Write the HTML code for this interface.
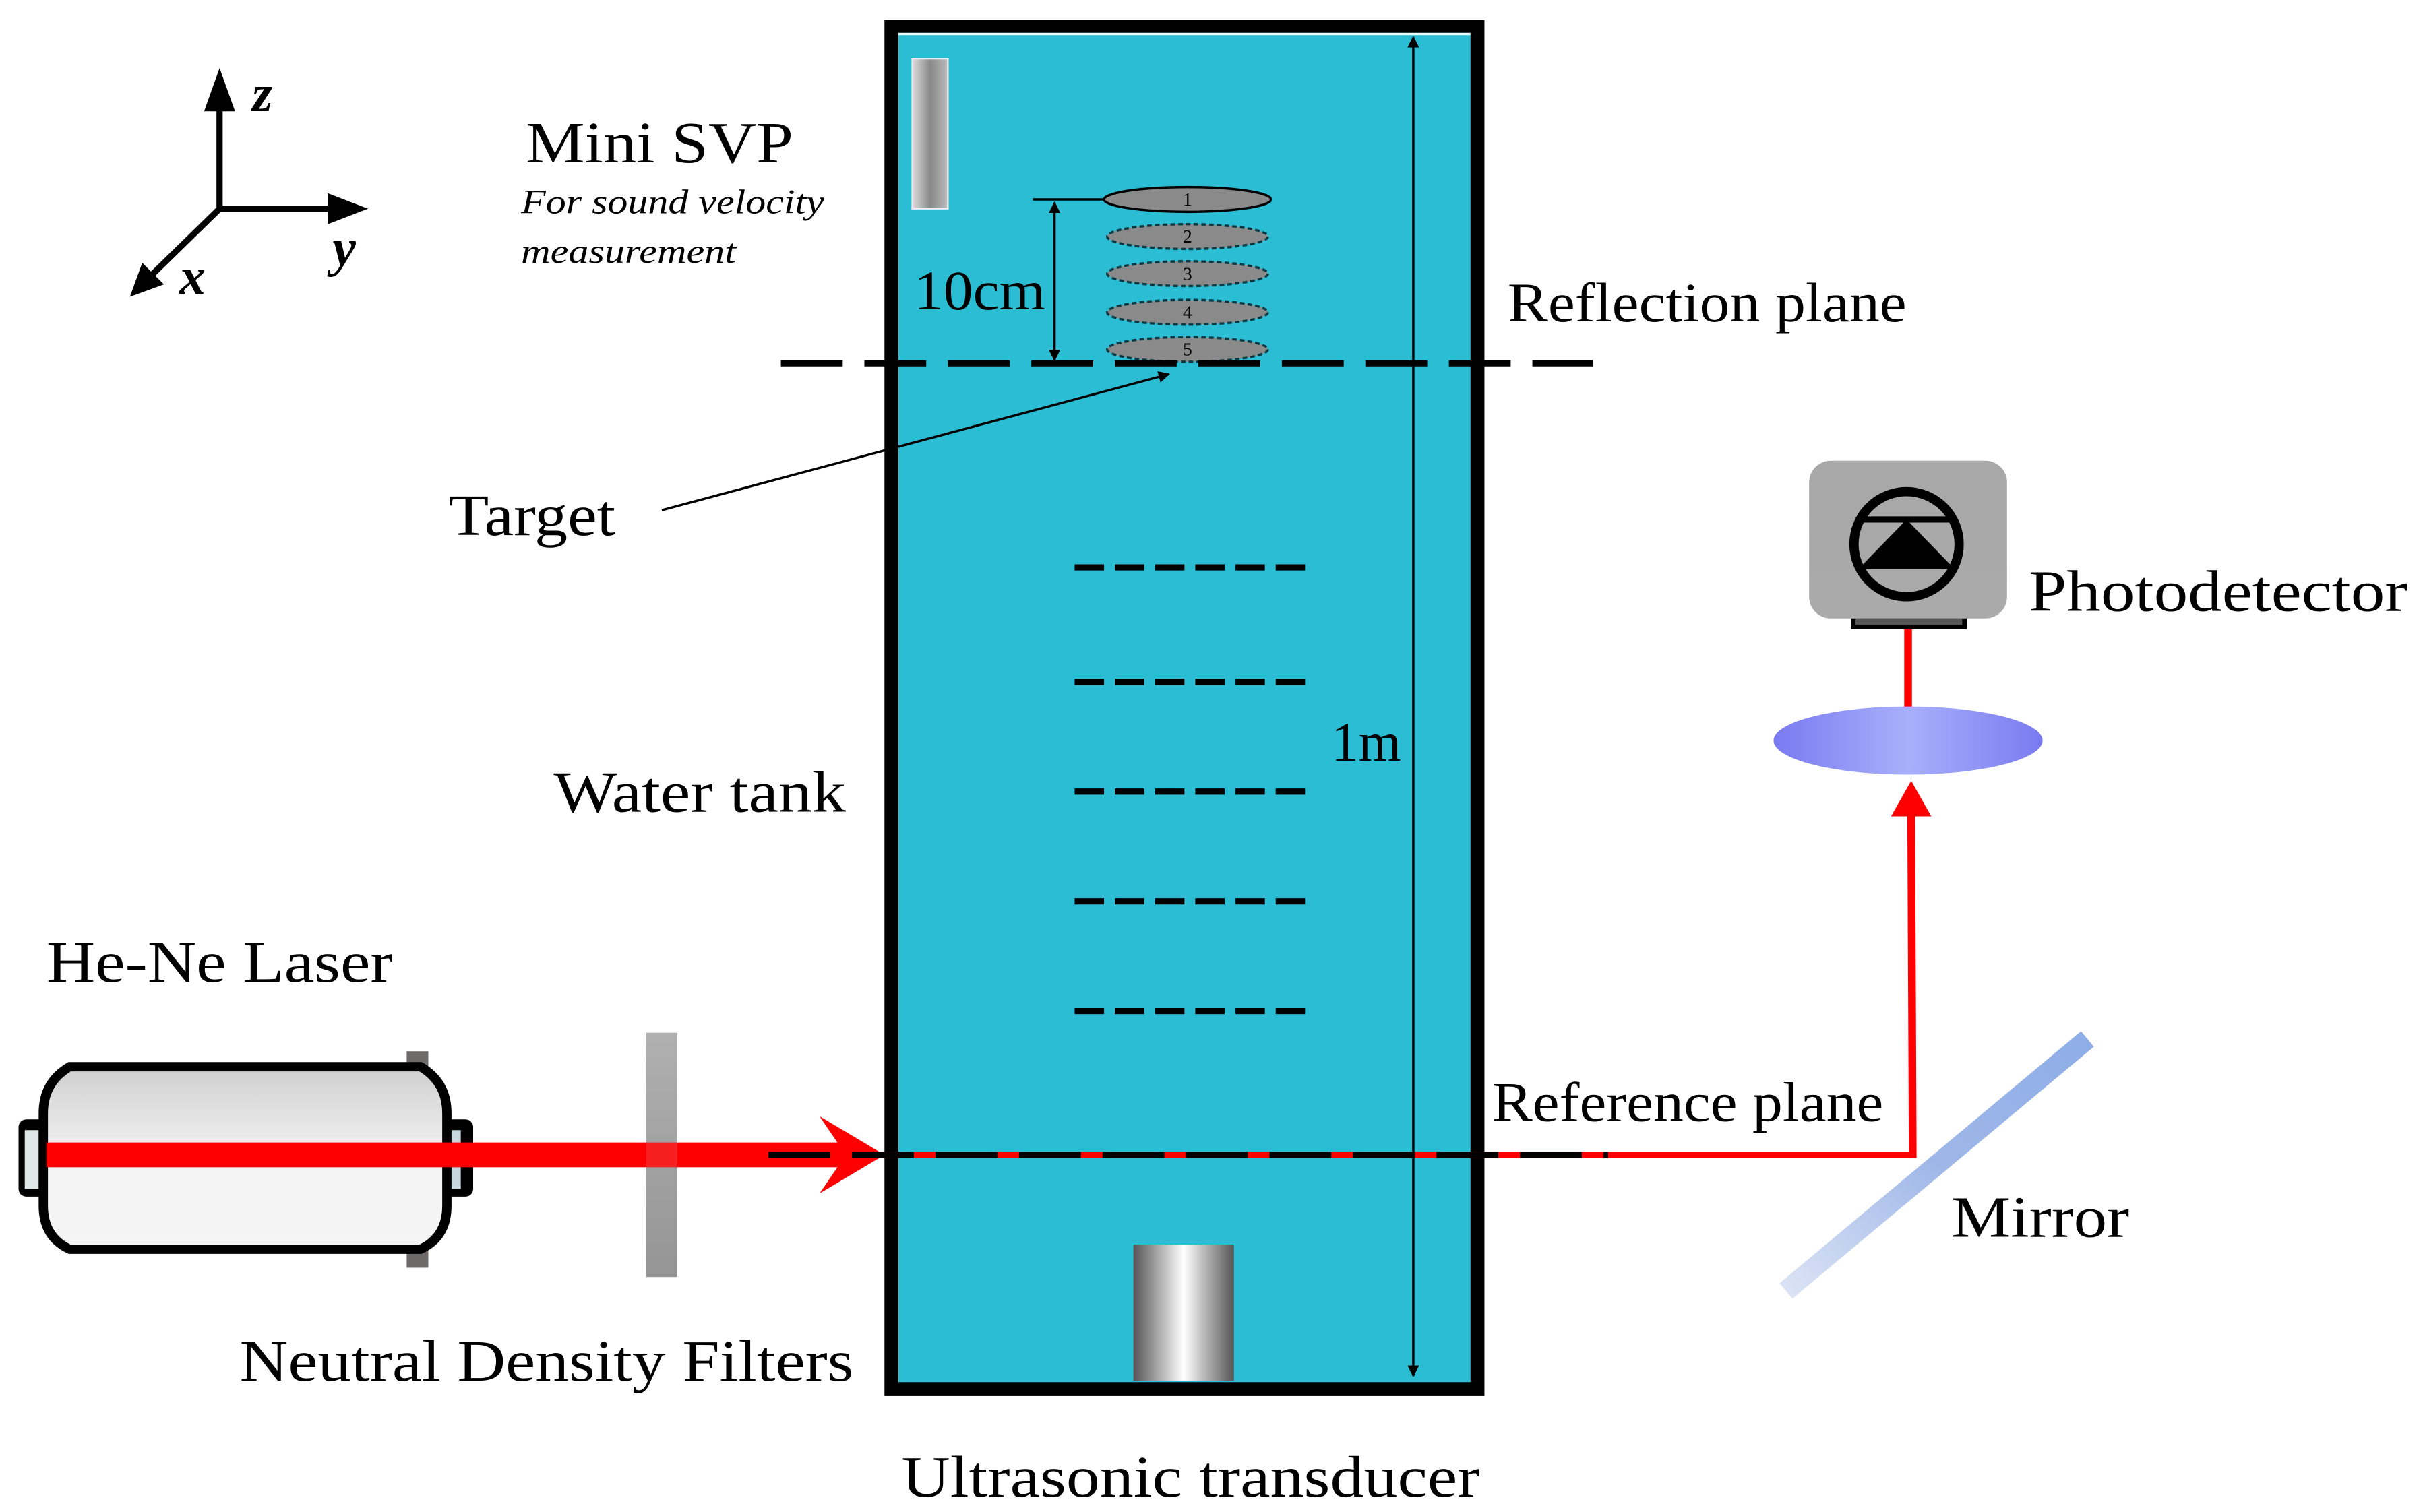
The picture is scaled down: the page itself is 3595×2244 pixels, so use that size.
<!DOCTYPE html>
<html><head><meta charset="utf-8"><style>
html,body{margin:0;padding:0;background:#fff;}
svg{display:block;}
text{font-family:"Liberation Serif",serif;fill:#000;}
</style></head><body>
<svg width="3595" height="2244" viewBox="0 0 1567 978" preserveAspectRatio="none" xmlns="http://www.w3.org/2000/svg">
<defs>
<linearGradient id="body" x1="0" y1="0" x2="0" y2="1"><stop offset="0" stop-color="#cfcfcf"/><stop offset="0.5" stop-color="#f3f3f3"/><stop offset="1" stop-color="#f5f5f5"/></linearGradient>
<linearGradient id="filt" x1="0" y1="0" x2="0" y2="1"><stop offset="0" stop-color="#b0b0b0"/><stop offset="1" stop-color="#959595"/></linearGradient>
<linearGradient id="trans" x1="0" y1="0" x2="1" y2="0"><stop offset="0" stop-color="#555"/><stop offset="0.5" stop-color="#fff"/><stop offset="1" stop-color="#555"/></linearGradient>
<linearGradient id="svp" x1="0" y1="0" x2="1" y2="0"><stop offset="0" stop-color="#ddd"/><stop offset="0.5" stop-color="#888"/><stop offset="1" stop-color="#bbb"/></linearGradient>
<linearGradient id="lens" x1="0" y1="0" x2="1" y2="0"><stop offset="0" stop-color="#7a7af0"/><stop offset="0.5" stop-color="#a8b0fa"/><stop offset="1" stop-color="#7a7af0"/></linearGradient>
<linearGradient id="mir" x1="0" y1="1" x2="1" y2="0"><stop offset="0" stop-color="#dbe3f5"/><stop offset="0.5" stop-color="#9fb7e8"/><stop offset="1" stop-color="#8eaee8"/></linearGradient>
<linearGradient id="pd" x1="0" y1="0" x2="0" y2="1"><stop offset="0" stop-color="#a8a8a8"/><stop offset="1" stop-color="#aaa"/></linearGradient>
<marker id="ah" viewBox="0 0 10 10" refX="9" refY="5" markerWidth="5" markerHeight="5" orient="auto-start-reverse"><path d="M0,0 L10,5 L0,10 z" fill="#000"/></marker>
</defs>

<!-- axes -->
<line x1="142" y1="135" x2="142" y2="60" stroke="#000" stroke-width="4"/>
<path d="M132,72 L142,44 L152,72 z" fill="#000"/>
<line x1="142" y1="135" x2="222" y2="135" stroke="#000" stroke-width="4"/>
<path d="M212,125 L238,135 L212,145 z" fill="#000"/>
<line x1="142" y1="135" x2="98" y2="178" stroke="#000" stroke-width="4"/>
<path d="M92,170 L84,192 L106,184 z" fill="#000"/>
<text x="163" y="72" font-size="34" font-style="italic" font-weight="bold">z</text>
<text x="215" y="172" font-size="34" font-style="italic" font-weight="bold">y</text>
<text x="116" y="190" font-size="34" font-style="italic" font-weight="bold">x</text>

<text x="340" y="105" font-size="38" textLength="173" lengthAdjust="spacingAndGlyphs">Mini SVP</text>
<text x="337" y="138" font-size="22" font-style="italic" textLength="196" lengthAdjust="spacingAndGlyphs">For sound velocity</text>
<text x="337" y="170" font-size="22" font-style="italic" textLength="139" lengthAdjust="spacingAndGlyphs">measurement</text>

<!-- tank -->
<rect x="576.5" y="17.5" width="379" height="881" fill="#2bbdd3" stroke="#000" stroke-width="9"/>
<line x1="581" y1="22" x2="951" y2="22" stroke="#e8fbff" stroke-width="1.5"/>
<rect x="590" y="38" width="23" height="97" fill="url(#svp)" stroke="#eee" stroke-width="1"/>

<!-- ellipses -->
<line x1="668" y1="129" x2="720" y2="129" stroke="#000" stroke-width="1.5"/>
<ellipse cx="768" cy="129" rx="54" ry="8" fill="#8a8a8a" stroke="#000" stroke-width="1.5"/>
<g fill="#8a8a8a" stroke="#0a3a44" stroke-width="1.5" stroke-dasharray="3,2">
<ellipse cx="768" cy="153" rx="52" ry="8"/>
<ellipse cx="768" cy="177" rx="52" ry="8"/>
<ellipse cx="768" cy="202" rx="52" ry="8"/>
<ellipse cx="768" cy="226" rx="52" ry="8"/>
</g>
<g font-size="12" text-anchor="middle"><text x="768" y="133">1</text><text x="768" y="157">2</text><text x="768" y="181">3</text><text x="768" y="206">4</text><text x="768" y="230">5</text></g>
<line x1="682" y1="131" x2="682" y2="233" stroke="#000" stroke-width="1.5" marker-start="url(#ah)" marker-end="url(#ah)"/>
<text x="591" y="200" font-size="36" textLength="85" lengthAdjust="spacingAndGlyphs">10cm</text>

<!-- reflection plane -->
<line x1="505" y1="235" x2="1030" y2="235" stroke="#000" stroke-width="4" stroke-dasharray="40,14"/>
<text x="975" y="208" font-size="36" textLength="258" lengthAdjust="spacingAndGlyphs">Reflection plane</text>

<!-- 1m -->
<line x1="914" y1="24" x2="914" y2="890" stroke="#000" stroke-width="1.5" marker-start="url(#ah)" marker-end="url(#ah)"/>
<text x="861" y="492" font-size="36" textLength="45" lengthAdjust="spacingAndGlyphs">1m</text>

<!-- target -->
<text x="290" y="346" font-size="38" textLength="108" lengthAdjust="spacingAndGlyphs">Target</text>
<line x1="428" y1="330" x2="756" y2="242" stroke="#000" stroke-width="1.5" marker-end="url(#ah)"/>

<!-- short dashed -->
<g stroke="#000" stroke-width="4" stroke-dasharray="19,7">
<line x1="695" y1="367" x2="845" y2="367"/>
<line x1="695" y1="441" x2="845" y2="441"/>
<line x1="695" y1="512" x2="845" y2="512"/>
<line x1="695" y1="583" x2="845" y2="583"/>
<line x1="695" y1="654" x2="845" y2="654"/>
</g>

<text x="358" y="525" font-size="38" textLength="189" lengthAdjust="spacingAndGlyphs">Water tank</text>
<text x="30" y="635" font-size="38" textLength="224" lengthAdjust="spacingAndGlyphs">He-Ne Laser</text>

<!-- laser -->
<rect x="263" y="680" width="14" height="140" fill="#6e6a6a"/>
<rect x="12" y="724" width="24" height="50" rx="5" fill="#000"/>
<rect x="16" y="731" width="9" height="38" fill="#dfe8e6"/>
<rect x="280" y="724" width="26" height="50" rx="5" fill="#000"/>
<rect x="289" y="731" width="9" height="38" fill="#c8d6dd"/>
<path d="M45,690 L272,690 Q289,700 289,720 L289,780 Q289,800 272,808 L45,808 Q28,800 28,780 L28,720 Q28,700 45,690 z" fill="url(#body)" stroke="#000" stroke-width="6"/>
<!-- beam -->
<rect x="30" y="739" width="520" height="16" fill="#ff0000"/>
<rect x="418" y="668" width="20" height="158" fill="url(#filt)"/>
<rect x="418" y="739" width="20" height="16" fill="#ff1010" opacity="0.9"/>
<path d="M530,722 L572,747 L530,772 L547,747 z" fill="#ff0000"/>

<!-- reference plane -->
<line x1="570" y1="747" x2="1236" y2="747" stroke="#ff0000" stroke-width="4"/>
<line x1="497" y1="747" x2="1040" y2="747" stroke="#000" stroke-width="4" stroke-dasharray="40,14"/>
<text x="965" y="725" font-size="36" textLength="253" lengthAdjust="spacingAndGlyphs">Reference plane</text>
<line x1="1237" y1="749" x2="1236" y2="525" stroke="#ff0000" stroke-width="5"/>
<path d="M1223,528 L1236,505 L1249,528 z" fill="#ff0000"/>
<line x1="1234" y1="462" x2="1234" y2="400" stroke="#ff0000" stroke-width="5"/>
<ellipse cx="1234" cy="479" rx="87" ry="22" fill="url(#lens)"/>

<!-- mirror -->
<line x1="1155" y1="835" x2="1350" y2="672" stroke="url(#mir)" stroke-width="13"/>
<text x="1262" y="800" font-size="38" textLength="115" lengthAdjust="spacingAndGlyphs">Mirror</text>

<!-- photodetector -->
<rect x="1197" y="398" width="75" height="9" fill="#000"/>
<rect x="1200" y="400" width="69" height="4" fill="#555"/>
<rect x="1170" y="298" width="128" height="102" rx="14" fill="url(#pd)"/>
<circle cx="1233" cy="352" r="34" fill="none" stroke="#000" stroke-width="6"/>
<line x1="1204" y1="336" x2="1262" y2="336" stroke="#000" stroke-width="4"/>
<path d="M1233,336 L1202,368 L1264,368 z" fill="#000"/>
<text x="1312" y="395" font-size="38" textLength="245" lengthAdjust="spacingAndGlyphs">Photodetector</text>

<!-- transducer -->
<rect x="733" y="805" width="65" height="88" fill="url(#trans)"/>

<text x="155" y="893" font-size="38" textLength="397" lengthAdjust="spacingAndGlyphs">Neutral Density Filters</text>
<text x="583" y="968" font-size="38" textLength="374" lengthAdjust="spacingAndGlyphs">Ultrasonic transducer</text>
</svg>
</body></html>
